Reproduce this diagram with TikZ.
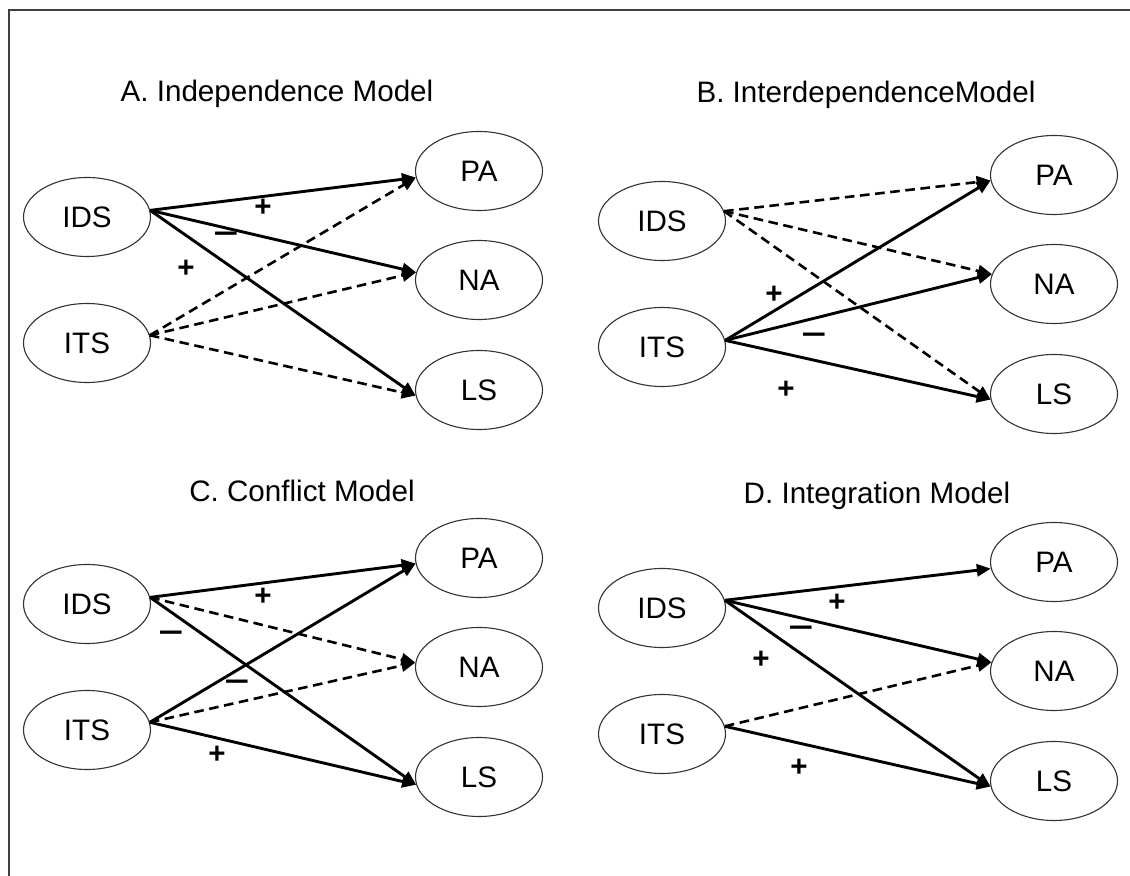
\documentclass[tikz,border=0pt]{standalone}
\usepackage{fontspec}
\setmainfont{Liberation Sans}
\usetikzlibrary{arrows.meta,shapes.geometric}

\newcommand{\negsign}{\scalebox{1.45}[1]{−}}

\tikzset{
  latent/.style={ellipse,draw=black!80,line width=0.55pt,minimum width=63.5pt,
    minimum height=39.5pt,inner sep=0pt,font=\fontsize{14.8}{17}\selectfont},
  effect/.style={line width=1.45pt,-{Triangle[length=7pt,width=6pt]}},
  noeffect/.style={line width=1.3pt,dash pattern=on 4.8pt off 2.8pt,
    -{Triangle[length=7pt,width=6pt]}},
  sign/.style={inner sep=0pt,font=\fontsize{14.8}{17}\selectfont\bfseries},
  title/.style={anchor=base,inner sep=0pt,font=\fontsize{14.8}{17}\selectfont},
  frame/.style={draw=black!75,line width=0.9pt}
}

\begin{document}
\begin{tikzpicture}[x=0.5pt,y=-0.5pt]
\useasboundingbox (0,0) rectangle (1130,876);
\draw[frame] (9,876) -- (9,10) -- (1130,10);

% the four panels share one layout
\foreach \p/\x/\y in {a/87/217,b/662/221,c/87/604,d/662/608}{
  \node[latent] (IDS\p) at (\x,\y) {IDS};
  \node[latent] (ITS\p) at (\x,\y+126) {ITS};
  \node[latent] (PA\p) at (\x+392,\y-46) {PA};
  \node[latent] (NA\p) at (\x+392,\y+63) {NA};
  \node[latent] (LS\p) at (\x+392,\y+173) {LS};
}

\node[title] (titlea) at (277,102) {A. Independence Model};
\node[title] (titleb) at (866,103) {B. InterdependenceModel};
\node[title] (titlec) at (302,502) {C. Conflict Model};
\node[title] (titled) at (877,504) {D. Integration Model};

% A
\draw[effect] (IDSa.6) -- (PAa.186);
\draw[effect] (IDSa.6) -- (NAa.173);
\draw[effect] (IDSa.6) -- (LSa.185);
\draw[noeffect] (ITSa.7) -- (PAa.186);
\draw[noeffect] (ITSa.7) -- (NAa.173);
\draw[noeffect] (ITSa.7) -- (LSa.185);
\node[sign] (sa1) at (263,208) {+};
\node[sign] (sa2) at (226,238) {\negsign};
\node[sign] (sa3) at (186,269) {+};

% B
\draw[noeffect] (IDSb.9) -- (PAb.185);
\draw[noeffect] (IDSb.9) -- (NAb.171);
\draw[noeffect] (IDSb.9) -- (LSb.185);
\draw[effect] (ITSb.6) -- (PAb.185);
\draw[effect] (ITSb.6) -- (NAb.171);
\draw[effect] (ITSb.6) -- (LSb.185);
\node[sign] (sb1) at (774,295) {+};
\node[sign] (sb2) at (814,339) {\negsign};
\node[sign] (sb3) at (786,390) {+};

% C
\draw[effect] (IDSc.6) -- (PAc.185);
\draw[noeffect] (IDSc.6) -- (NAc.176);
\draw[effect] (IDSc.6) -- (LSc.187);
\draw[effect] (ITSc.7) -- (PAc.185);
\draw[noeffect] (ITSc.7) -- (NAc.176);
\draw[effect] (ITSc.7) -- (LSc.187);
\node[sign] (sc1) at (263,597) {+};
\node[sign] (sc2) at (171,637) {\negsign};
\node[sign] (sc3) at (237,686) {\negsign};
\node[sign] (sc4) at (217,755) {+};

% D
\draw[effect] (IDSd.7) -- (PAd.186);
\draw[effect] (IDSd.7) -- (NAd.172);
\draw[effect] (IDSd.7) -- (LSd.185);
\draw[noeffect] (ITSd.7) -- (NAd.172);
\draw[effect] (ITSd.7) -- (LSd.185);
\node[sign] (sd1) at (837,603) {+};
\node[sign] (sd2) at (801,632) {\negsign};
\node[sign] (sd3) at (761,660) {+};
\node[sign] (sd4) at (799,768) {+};
\end{tikzpicture}
\end{document}
